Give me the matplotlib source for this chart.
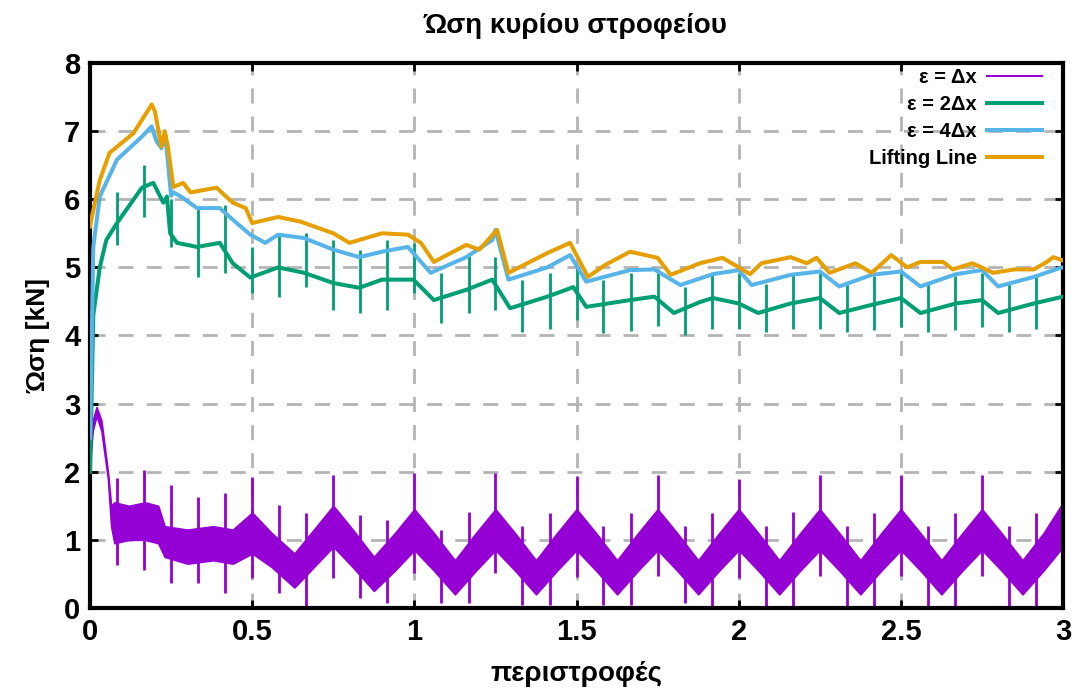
import matplotlib
matplotlib.use('Agg')
import matplotlib.pyplot as plt
import numpy as np

plt.rcParams['font.family'] = ['Liberation Sans', 'DejaVu Sans']

# --- data ---
# eps = dx : noisy band (lower / upper edge) plus periodic spikes
p_x = [0.0, 0.008, 0.02, 0.035, 0.055, 0.065, 0.075, 0.12, 0.17, 0.21, 0.23, 0.3, 0.38, 0.44,
       0.5, 0.56, 0.63, 0.69, 0.75, 0.81, 0.875, 0.94, 1.0, 1.06, 1.125, 1.19, 1.25, 1.31,
       1.375, 1.44, 1.5, 1.56, 1.625, 1.69, 1.75, 1.81, 1.875, 1.94, 2.0, 2.06, 2.125, 2.19,
       2.25, 2.31, 2.375, 2.44, 2.5, 2.56, 2.625, 2.69, 2.75, 2.81, 2.875, 2.94, 3.0]
p_lo = [2.1, 2.6, 2.82, 2.6, 1.9, 1.2, 0.95, 1.0, 1.0, 0.95, 0.75, 0.65, 0.7, 0.65,
        0.8, 0.6, 0.3, 0.6, 0.9, 0.6, 0.25, 0.55, 0.85, 0.55, 0.2, 0.55, 0.85, 0.55,
        0.2, 0.55, 0.85, 0.55, 0.2, 0.55, 0.85, 0.55, 0.2, 0.55, 0.85, 0.55, 0.2, 0.55,
        0.85, 0.55, 0.2, 0.55, 0.85, 0.55, 0.2, 0.55, 0.85, 0.55, 0.2, 0.55, 0.9]
p_hi = [2.2, 2.75, 2.95, 2.75, 2.0, 1.5, 1.55, 1.5, 1.55, 1.5, 1.2, 1.15, 1.2, 1.15,
        1.4, 1.1, 0.8, 1.15, 1.5, 1.15, 0.75, 1.1, 1.45, 1.1, 0.7, 1.1, 1.45, 1.1,
        0.7, 1.1, 1.45, 1.1, 0.7, 1.1, 1.45, 1.1, 0.7, 1.1, 1.45, 1.1, 0.7, 1.1,
        1.45, 1.1, 0.7, 1.1, 1.45, 1.1, 0.7, 1.1, 1.45, 1.1, 0.7, 1.1, 1.55]

spike_x = [0.083, 0.167, 0.25, 0.333, 0.417, 0.5, 0.583, 0.667, 0.75, 0.833, 0.917, 1.0,
           1.083, 1.167, 1.25, 1.333, 1.417, 1.5, 1.583, 1.667, 1.75, 1.833, 1.917, 2.0,
           2.083, 2.167, 2.25, 2.333, 2.417, 2.5, 2.583, 2.667, 2.75, 2.833, 2.917]
p_spk_lo = [0.63, 0.56, 0.37, 0.37, 0.22, 0.44, 0.22, 0.0, 0.44, 0.15, 0.07, 0.51,
            0.07, 0.07, 0.51, 0.05, 0.05, 0.45, 0.05, 0.05, 0.47, 0.07, 0.0, 0.44,
            0.0, 0.0, 0.47, 0.03, 0.03, 0.47, 0.03, 0.03, 0.47, 0.03, 0.03]
p_spk_hi = [1.91, 2.03, 1.8, 1.63, 1.69, 1.92, 1.51, 1.39, 1.95, 1.37, 1.29, 1.98,
            1.15, 1.41, 1.98, 1.2, 1.4, 1.93, 1.2, 1.4, 1.95, 1.2, 1.39, 1.9,
            1.2, 1.41, 1.95, 1.2, 1.4, 1.95, 1.2, 1.4, 1.95, 1.2, 1.4]

# eps = 2dx
g_x = [0.0, 0.01, 0.03, 0.05, 0.083, 0.12, 0.16, 0.195, 0.226, 0.237, 0.247, 0.268, 0.33,
       0.40, 0.44, 0.494, 0.58, 0.66, 0.75, 0.83, 0.9, 0.997, 1.06, 1.16, 1.24, 1.295, 1.41,
       1.49, 1.53, 1.665, 1.74, 1.80, 1.88, 1.92, 2.0, 2.06, 2.16, 2.25, 2.31, 2.41, 2.5,
       2.56, 2.67, 2.75, 2.8, 2.91, 3.0]
g_y = [2.0, 4.3, 5.0, 5.4, 5.65, 5.9, 6.17, 6.24, 5.95, 6.04, 5.5, 5.36, 5.3,
       5.36, 5.06, 4.85, 5.0, 4.92, 4.77, 4.7, 4.82, 4.82, 4.52, 4.67, 4.82, 4.4, 4.57,
       4.71, 4.42, 4.52, 4.57, 4.33, 4.49, 4.55, 4.47, 4.33, 4.47, 4.55, 4.33, 4.45, 4.55,
       4.33, 4.47, 4.52, 4.33, 4.47, 4.57]
g_spk_lo = [5.33, 5.74, 5.3, 4.86, 4.92, 4.63, 4.57, 4.71, 4.37, 4.33, 4.37, 4.63,
            4.18, 4.33, 4.37, 4.05, 4.1, 4.23, 4.04, 4.07, 4.14, 4.0, 4.1, 4.1,
            4.05, 4.1, 4.1, 4.05, 4.08, 4.12, 4.05, 4.08, 4.12, 4.05, 4.1]
g_spk_hi = [6.1, 6.5, 6.0, 5.89, 5.92, 5.3, 5.5, 5.5, 5.4, 5.26, 5.4, 5.36,
            4.92, 5.21, 5.15, 4.82, 4.92, 5.0, 4.82, 4.92, 4.97, 4.71, 4.92, 4.92,
            4.75, 4.9, 4.92, 4.75, 4.88, 4.92, 4.75, 4.88, 4.92, 4.75, 4.9]

# eps = 4dx
b_x = [0.0, 0.01, 0.03, 0.083, 0.16, 0.19, 0.205, 0.22, 0.232, 0.25, 0.257, 0.28, 0.33,
       0.40, 0.44, 0.494, 0.54, 0.58, 0.66, 0.75, 0.83, 0.9, 0.98, 1.05, 1.16, 1.24, 1.25,
       1.29, 1.41, 1.48, 1.53, 1.665, 1.74, 1.82, 1.92, 2.0, 2.04, 2.16, 2.25, 2.31, 2.41,
       2.5, 2.56, 2.67, 2.75, 2.8, 2.91, 2.99, 3.0]
b_y = [2.5, 5.3, 6.04, 6.58, 6.92, 7.07, 6.85, 6.75, 6.95, 6.05, 6.1, 6.04, 5.87,
       5.87, 5.7, 5.48, 5.36, 5.48, 5.43, 5.26, 5.15, 5.23, 5.3, 4.92, 5.15, 5.4, 5.55,
       4.82, 5.0, 5.18, 4.79, 4.96, 4.97, 4.74, 4.9, 4.96, 4.74, 4.89, 4.94, 4.72, 4.89,
       4.94, 4.72, 4.9, 4.96, 4.72, 4.86, 4.99, 5.0]

# Lifting Line
o_x = [0.0, 0.006, 0.03, 0.06, 0.134, 0.19, 0.2, 0.22, 0.23, 0.24, 0.257, 0.287, 0.31,
       0.39, 0.44, 0.48, 0.50, 0.58, 0.65, 0.75, 0.80, 0.90, 0.98, 1.02, 1.06, 1.16, 1.20,
       1.255, 1.29, 1.41, 1.48, 1.535, 1.59, 1.665, 1.75, 1.79, 1.88, 1.95, 2.0, 2.035,
       2.07, 2.16, 2.21, 2.24, 2.28, 2.36, 2.41, 2.47, 2.52, 2.56, 2.63, 2.66, 2.72, 2.785,
       2.85, 2.91, 2.95, 2.97, 3.0]
o_y = [5.6, 5.75, 6.28, 6.68, 6.97, 7.39, 7.29, 6.77, 7.0, 6.77, 6.18, 6.24, 6.1,
       6.17, 5.95, 5.87, 5.65, 5.74, 5.67, 5.5, 5.36, 5.5, 5.48, 5.36, 5.08, 5.33, 5.26,
       5.55, 4.92, 5.21, 5.36, 4.86, 5.04, 5.23, 5.14, 4.89, 5.06, 5.14, 5.0, 4.9,
       5.06, 5.15, 5.06, 5.14, 4.92, 5.06, 4.92, 5.18, 5.0, 5.08, 5.08, 4.97, 5.06, 4.92,
       4.97, 4.97, 5.08, 5.15, 5.1]

labels = ["ε = Δx", "ε = 2Δx", "ε = 4Δx", "Lifting Line"]
colors = ["#9400d3", "#009e73", "#56b4e9", "#e69f00"]

fig = plt.figure(figsize=(10.81, 6.94), dpi=100)
ax = fig.add_axes([0.0833, 0.124, 0.9001, 0.7852])

ax.fill_between(p_x, p_lo, p_hi, color=colors[0], lw=1.2, zorder=2)
ax.vlines(spike_x, p_spk_lo, p_spk_hi, color=colors[0], lw=2.0, zorder=2)
ax.plot([], [], color=colors[0], lw=1.5, label=labels[0])

ax.plot(g_x, g_y, color=colors[1], lw=2.9, label=labels[1], zorder=3)
ax.vlines(spike_x, g_spk_lo, g_spk_hi, color=colors[1], lw=2.0, zorder=3)
ax.plot(b_x, b_y, color=colors[2], lw=2.9, label=labels[2], zorder=4)
ax.plot(o_x, o_y, color=colors[3], lw=2.9, label=labels[3], zorder=5)

ax.set_xlim(0, 3)
ax.set_ylim(0, 8)
ax.set_xticks([0, 0.5, 1, 1.5, 2, 2.5, 3])
ax.set_xticklabels(["0", "0.5", "1", "1.5", "2", "2.5", "3"])
ax.set_yticks(range(0, 9))
ax.grid(True, color="#b4b4b4", lw=2, dashes=(5.4, 4.7), zorder=0)
ax.set_axisbelow(True)
for s in ax.spines.values():
    s.set_linewidth(3)
ax.tick_params(direction='in', length=6, width=2, labelsize=21, pad=7,
               top=True, right=True)
for t in ax.get_xticklabels() + ax.get_yticklabels():
    t.set_fontweight('bold')

ax.set_xlabel("περιστροφές", fontsize=20, fontweight='bold', labelpad=11)
ax.set_ylabel("Ώση [kN]", fontsize=19, fontweight='bold', labelpad=10)
fig.text(0.532, 0.963, "Ώση κυρίου στροφείου", ha='center', va='center',
         fontsize=20, fontweight='bold')

ax.legend(loc='upper right', bbox_to_anchor=(0.983, 0.998), frameon=False,
          markerfirst=False, prop={'weight': 'bold', 'size': 14.5},
          handlelength=2.75, labelspacing=0.4, borderaxespad=0, borderpad=0.2,
          handletextpad=0.5)

plt.savefig("out.png", dpi=100)
